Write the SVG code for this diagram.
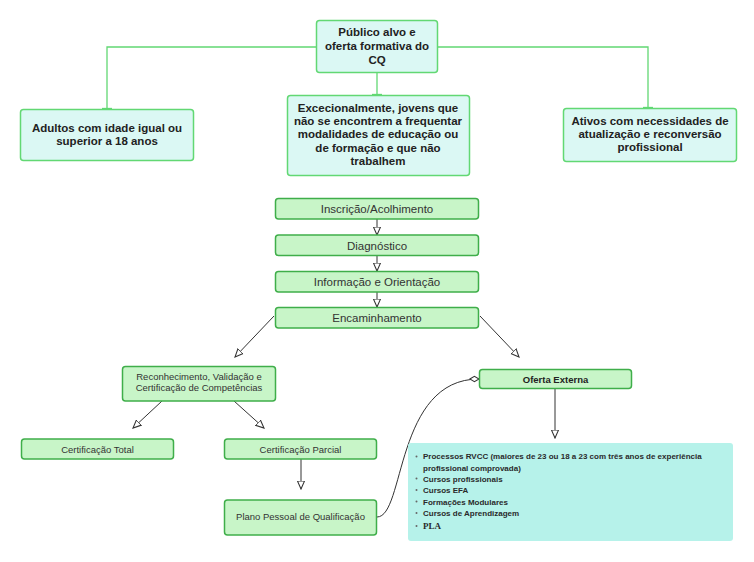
<svg xmlns="http://www.w3.org/2000/svg" width="754" height="562" viewBox="0 0 754 562">
<style>
.bg{fill:#ffffff}
.top{fill:#dbf8f4;stroke:#62d873;stroke-width:1.5}
.gr{fill:#c8f5c8;stroke:#3fae4a;stroke-width:1.5}
.lst{fill:#b6f2ea}
.tl{fill:none;stroke:#62d873;stroke-width:1.3}
.ar{fill:none;stroke:#333333;stroke-width:1}
.tb{font-family:"Liberation Sans",Arial,sans-serif;font-weight:bold;font-size:11.5px;fill:#222;text-anchor:middle}
.tn{font-family:"Liberation Sans",Arial,sans-serif;font-size:11.5px;fill:#333;text-anchor:middle}
.ts{font-family:"Liberation Sans",Arial,sans-serif;font-size:9.5px;fill:#333;text-anchor:middle}
.tsb{font-family:"Liberation Sans",Arial,sans-serif;font-weight:bold;font-size:9.5px;fill:#222;text-anchor:middle}
.li{font-family:"Liberation Sans",Arial,sans-serif;font-weight:bold;font-size:8px;fill:#2a2a2a}
.lis{font-family:"Liberation Serif","Times New Roman",serif;font-weight:bold;font-size:9px;fill:#2a2a2a}
.bul{fill:#666}
</style>
<defs>
<marker id="tri" viewBox="0 0 10 10" refX="9" refY="5" markerWidth="9" markerHeight="9" orient="auto" markerUnits="userSpaceOnUse">
<path d="M0,1 L9,5 L0,9 Z" fill="#ffffff" stroke="#333333" stroke-width="1.2"/>
</marker>
<marker id="dia" viewBox="0 0 12 8" refX="11" refY="4" markerWidth="11" markerHeight="8" orient="auto" markerUnits="userSpaceOnUse">
<path d="M1,4 L6,1 L11,4 L6,7 Z" fill="#ffffff" stroke="#333333" stroke-width="1.1"/>
</marker>
</defs>
<rect class="bg" x="0" y="0" width="754" height="562"/>

<g id="connectors">
<path class="tl" d="M316,47 H107 V109"/>
<path class="tl" d="M102,108.5 H112"/>
<path class="tl" d="M437,47 H648 V108"/>
<path class="tl" d="M643,107.5 H653"/>
<path class="tl" d="M377,73 V95"/>
<path class="tl" d="M372,94.5 H382"/>
<path class="ar" d="M377,219 V235" marker-end="url(#tri)"/>
<path class="ar" d="M377,255 V271" marker-end="url(#tri)"/>
<path class="ar" d="M377,292 V307" marker-end="url(#tri)"/>
<path class="ar" d="M274,316 L235,357" marker-end="url(#tri)"/>
<path class="ar" d="M480,316 L519,357" marker-end="url(#tri)"/>
<path class="ar" d="M162,401 L133,428" marker-end="url(#tri)"/>
<path class="ar" d="M234,401 L264,428" marker-end="url(#tri)"/>
<path class="ar" d="M301,459 V489" marker-end="url(#tri)"/>
<path class="ar" d="M555,388 V438" marker-end="url(#tri)"/>
<path class="ar" d="M377,517 C405,517 395,379 479,379" marker-end="url(#dia)"/>
</g>

<g id="publico">
<rect class="top" x="316.5" y="20.5" width="121" height="52" rx="3"/>
<text class="tb" x="377" y="36">Público alvo e</text>
<text class="tb" x="377" y="50">oferta formativa do</text>
<text class="tb" x="377" y="64">CQ</text>
</g>
<g id="adultos">
<rect class="top" x="20.5" y="109.5" width="173" height="51" rx="3"/>
<text class="tb" x="107" y="132">Adultos com idade igual ou</text>
<text class="tb" x="107" y="145">superior a 18 anos</text>
</g>
<g id="jovens">
<rect class="top" x="287.5" y="95.5" width="182" height="80" rx="3"/>
<text class="tb" x="378" y="112">Excecionalmente, jovens que</text>
<text class="tb" x="378" y="125">não se encontrem a frequentar</text>
<text class="tb" x="378" y="138">modalidades de educação ou</text>
<text class="tb" x="378" y="152">de formação e que não</text>
<text class="tb" x="378" y="165">trabalhem</text>
</g>
<g id="ativos">
<rect class="top" x="563.5" y="108.5" width="173" height="53" rx="3"/>
<text class="tb" x="650" y="125">Ativos com necessidades de</text>
<text class="tb" x="650" y="138">atualização e reconversão</text>
<text class="tb" x="650" y="151">profissional</text>
</g>

<g id="inscricao">
<rect class="gr" x="275.5" y="198.5" width="203" height="20.5" rx="3"/>
<text class="tn" x="377" y="213">Inscrição/Acolhimento</text>
</g>
<g id="diagnostico">
<rect class="gr" x="275.5" y="235" width="203" height="20.5" rx="3"/>
<text class="tn" x="377" y="249.5">Diagnóstico</text>
</g>
<g id="informacao">
<rect class="gr" x="275.5" y="271.5" width="203" height="20.5" rx="3"/>
<text class="tn" x="377" y="286">Informação e Orientação</text>
</g>
<g id="encaminhamento">
<rect class="gr" x="275.5" y="307.5" width="203" height="20.5" rx="3"/>
<text class="tn" x="377" y="322">Encaminhamento</text>
</g>

<g id="rvcc">
<rect class="gr" x="122.5" y="366.5" width="153" height="34.5" rx="3"/>
<text class="ts" x="199" y="379.5">Reconhecimento, Validação e</text>
<text class="ts" x="199" y="391">Certificação de Competências</text>
</g>
<g id="oferta">
<rect class="gr" x="479.5" y="369.5" width="152" height="19" rx="3"/>
<text class="tsb" x="555.5" y="382.5">Oferta Externa</text>
</g>
<g id="certtotal">
<rect class="gr" x="21.5" y="439" width="152" height="20" rx="3"/>
<text class="ts" x="97.5" y="452.5">Certificação Total</text>
</g>
<g id="certparcial">
<rect class="gr" x="224.5" y="439" width="152" height="20" rx="3"/>
<text class="ts" x="300.5" y="452.5">Certificação Parcial</text>
</g>
<g id="plano">
<rect class="gr" x="224.5" y="500" width="152" height="35" rx="3"/>
<text class="ts" x="300.5" y="520">Plano Pessoal de Qualificação</text>
</g>

<g id="lista">
<rect class="lst" x="408" y="443" width="325" height="98" rx="3"/>
<circle class="bul" cx="416.5" cy="456.5" r="1"/>
<circle class="bul" cx="416.5" cy="478.5" r="1"/>
<circle class="bul" cx="416.5" cy="490" r="1"/>
<circle class="bul" cx="416.5" cy="501.5" r="1"/>
<circle class="bul" cx="416.5" cy="513" r="1"/>
<circle class="bul" cx="416.5" cy="526" r="1"/>
<text class="li" x="423" y="459">Processos RVCC (maiores de 23 ou 18 a 23 com três anos de experiência</text>
<text class="li" x="423" y="470.5">profissional comprovada)</text>
<text class="li" x="423" y="481.5">Cursos profissionais</text>
<text class="li" x="423" y="493">Cursos EFA</text>
<text class="li" x="423" y="504.5">Formações Modulares</text>
<text class="li" x="423" y="516">Cursos de Aprendizagem</text>
<text class="lis" x="423" y="529">PLA</text>
</g>
</svg>
